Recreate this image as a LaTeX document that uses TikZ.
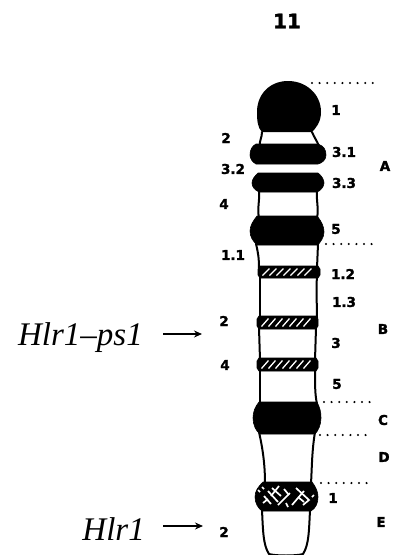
\documentclass[tikz,border=0pt]{standalone}
\usepackage{fontspec}
\setmainfont[BoldFeatures={FakeBold=1.8}]{DejaVu Sans}
\newfontfamily\genefont{Liberation Serif}
\usetikzlibrary{arrows.meta}
\tikzset{
  lab/.style={font=\fontsize{13.5}{13.5}\selectfont\bfseries, inner sep=0pt},
  gene/.style={font=\genefont\itshape\fontsize{33}{33}\selectfont, inner sep=0pt, anchor=base east},
  outline/.style={line width=2pt, line cap=round, line join=round},
  band/.style={fill=black, draw=black, line width=0.6pt, line join=round},
  gap/.style={line width=2.3pt, dash pattern=on 0pt off 7.6pt, line cap=round},
  pointer/.style={-{Stealth[length=8pt,width=7pt]}, line width=1.2pt},
  hatch/.style={white, line width=1.3pt}
}
\begin{document}
\begin{tikzpicture}[x=1pt,y=-1pt]
\useasboundingbox (0,0) rectangle (392,555);
\fill[white] (0,0) rectangle (392,555);

% chromosome walls
\draw[outline] (262,132) .. controls (262,138) and (259,141) .. (260,146);
\draw[outline] (312,132) .. controls (314,137) and (317,141) .. (319,146);
\draw[outline] (259,190) .. controls (260,200) and (257,208) .. (259,218);
\draw[outline] (317,190) .. controls (316,200) and (319,208) .. (317,218);
\draw[outline] (256,244) .. controls (258,252) and (259,258) .. (259,268);
\draw[outline] (318,244) -- (317,268);
\draw[outline] (260,276) .. controls (260,290) and (260,305) .. (260,318);
\draw[outline] (317,276) .. controls (316,290) and (317,305) .. (317,318);
\draw[outline] (259,328) -- (260,360);
\draw[outline] (316,328) -- (315,360);
\draw[outline] (260,370) -- (260,404);
\draw[outline] (315,370) .. controls (315,385) and (315,395) .. (317,404);
\draw[outline] (259,432) .. controls (263,450) and (265,465) .. (265,484);
\draw[outline] (315,432) .. controls (312,450) and (312,465) .. (311,484);

% telomeric lobe below the last band
\draw[outline] (262,510) .. controls (263,530) and (263,545) .. (269,554);
\draw[outline] (310,510) .. controls (309,530) and (309,545) .. (303,554);
\draw[outline] (269,554) .. controls (275,556) and (297,556) .. (303,554);

% solid bands
\fill[black] (288,81) .. controls (306,81) and (321,94) .. (321,112)
  .. controls (321,122) and (316,128) .. (312,132)
  -- (262,132) .. controls (258,128) and (257,122) .. (257,112)
  .. controls (257,94) and (270,81) .. (288,81) -- cycle;
\draw[band] (256,144) -- (318,144) .. controls (324,146) and (326,150) .. (326,155)
  .. controls (326,160) and (322,163) .. (318,164) -- (256,164)
  .. controls (252,162) and (250,158) .. (250,155) .. controls (250,150) and (252,146) .. (256,144) -- cycle;
\draw[band] (258,173) -- (318,173) .. controls (322,176) and (324,180) .. (324,183)
  .. controls (324,187) and (320,191) .. (317,192) -- (259,192)
  .. controls (255,190) and (252,187) .. (252,183) .. controls (252,179) and (255,176) .. (258,173) -- cycle;
\draw[band] (257,216) -- (317,216) .. controls (322,222) and (324,227) .. (324,232)
  .. controls (324,238) and (320,242) .. (318,245) -- (257,245)
  .. controls (253,241) and (250,237) .. (250,231) .. controls (250,226) and (253,221) .. (257,216) -- cycle;
\draw[band] (259,402) -- (317,402) .. controls (320,408) and (321,412) .. (321,418)
  .. controls (321,425) and (318,431) .. (315,434) -- (260,434)
  .. controls (256,431) and (253,425) .. (253,418) .. controls (253,412) and (255,407) .. (259,402) -- cycle;

% hatched bands
\foreach \top/\bot/\lft/\rgt in {266/278/258/320, 316/329/257/318, 358/371/257/318}{
  \draw[band] (\lft+2,\top) -- (\rgt-2,\top) -- (\rgt,\top+3) -- (\rgt,\bot-3) -- (\rgt-2,\bot)
    -- (\lft+2,\bot) -- (\lft,\bot-3) -- (\lft,\top+3) -- cycle;
  \foreach \d in {8,15,...,55}{
    \draw[hatch] (\lft+\d-3.5,\bot-2.5) -- (\lft+\d+3.5,\top+2.5);
  }
}

% cross-hatched band
\draw[band] (263,482) -- (312,482) .. controls (316,487) and (318,492) .. (318,497)
  .. controls (318,503) and (316,508) .. (311,511) -- (262,511)
  .. controls (258,508) and (255,503) .. (255,497) .. controls (255,491) and (258,487) .. (263,482) -- cycle;
\begin{scope}[white, line width=1.7pt]
  \draw (264,496) -- (271,504) (268,491) -- (278,502) (263,503) -- (268,499);
  \draw (272,488) -- (281,496) (279,486) -- (271,496) (284,489) -- (289,495);
  \draw (278,505) -- (290,493) (286,503) -- (288,507) (292,505) -- (304,491);
  \draw (296,488) -- (309,500) -- (303,505) (298,497) -- (304,502);
  \draw (258,490) -- (260,492) (262,487) -- (264,489) (312,497) -- (314,495);
\end{scope}

% band name labels
\node[lab, font=\fontsize{20}{20}\selectfont\bfseries] (num) at (287,21) {11};
\node[lab] (l1) at (336,110) {1};
\node[lab] (l2) at (226,138) {2};
\node[lab] (l31) at (344,152) {3.1};
\node[lab] (l32) at (233,169) {3.2};
\node[lab] (l33) at (344,183) {3.3};
\node[lab] (l4) at (224,204) {4};
\node[lab] (l5) at (336,229) {5};
\node[lab] (l11) at (233,255) {1.1};
\node[lab] (l12) at (343,274) {1.2};
\node[lab] (l13) at (344,302) {1.3};
\node[lab] (l2b) at (224,321) {2};
\node[lab] (l3) at (336,343) {3};
\node[lab] (l4b) at (225,365) {4};
\node[lab] (l5b) at (337,384) {5};
\node[lab] (l1e) at (333,498) {1};
\node[lab] (l2e) at (224,532) {2};

% region labels
\node[lab] (A) at (385,166) {A};
\node[lab] (B) at (383,329) {B};
\node[lab] (C) at (383,420) {C};
\node[lab] (D) at (384,457) {D};
\node[lab] (E) at (381,522) {E};

% region boundaries
\coordinate (t1) at (312,83); \coordinate (t2) at (375,83);
\coordinate (a1) at (326,244); \coordinate (a2) at (375,244);
\coordinate (b1) at (324,402); \coordinate (b2) at (370,402);
\coordinate (c1) at (320,435); \coordinate (c2) at (371,435);
\coordinate (d1) at (321,483); \coordinate (d2) at (373,483);
\foreach \p/\q in {t1/t2, a1/a2, b1/b2, c1/c2, d1/d2}{
  \draw[gap] (\p) -- (\q);
}

% mapped loci
\node[gene] (ps) at (143,345) {Hlr1–ps1};
\node[gene] (hl) at (145,540) {Hlr1};
\coordinate (pstail) at (163,334);
\coordinate (psend) at (202,334);
\coordinate (hltail) at (163,526);
\coordinate (hlend) at (203,526);
\draw[pointer] (pstail) -- (psend);
\draw[pointer] (hltail) -- (hlend);
\end{tikzpicture}
\end{document}
